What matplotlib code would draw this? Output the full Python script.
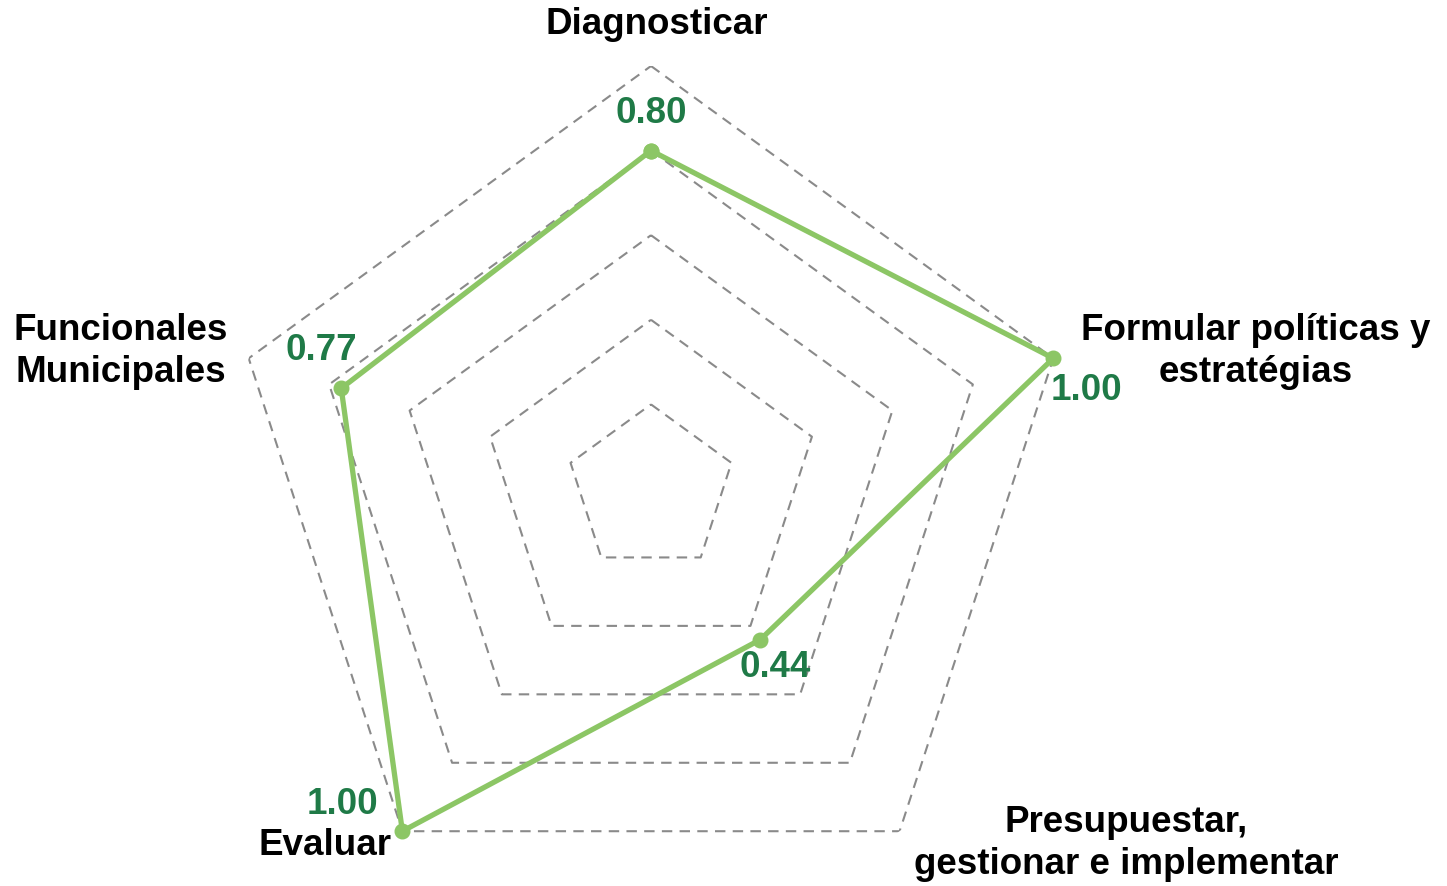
import numpy as np
import matplotlib
matplotlib.use("Agg")
import matplotlib.pyplot as plt

# ─── DATA ─────────────────────────────────────────────────────────────────────
CATEGORIES = ["Diagnosticar", "Formular políticas y\nestratégias",
              "Presupuestar,\ngestionar e implementar", "Evaluar",
              "Funcionales\nMunicipales"]
VALUES = [0.80, 1.00, 0.44, 1.00, 0.77]
RINGS = [0.2, 0.4, 0.6, 0.8, 1.0]

# label offsets (points) relative to the outer vertex / data point
CAT_OFFSETS = [(4, 30), (146, 5), (163, -9), (-56, -10), (-92, 5)]
VAL_OFFSETS = [(0, 27), (24, -23), (11, -20), (-43, 19), (-14, 27)]

LINE_COLOR = "#8CC665"
VALUE_COLOR = "#1F7A47"
GRID_COLOR = "#8A8A8A"

plt.rcParams["font.family"] = ["Liberation Sans", "DejaVu Sans"]

fig = plt.figure(figsize=(14.47, 8.86), dpi=100)
W, H = 1447, 886
cx, cy, R = 651, 886 - 489, 423
ax = fig.add_axes([(cx - R) / W, (cy - R) / H, 2 * R / W, 2 * R / H],
                  projection="polar")
ax.set_theta_zero_location("N")
ax.set_theta_direction(-1)
ax.set_ylim(0, 1)
ax.grid(False)
ax.set_xticks([])
ax.set_yticks([])
ax.spines["polar"].set_visible(False)
ax.patch.set_alpha(0)

n = len(CATEGORIES)
angles = np.linspace(0, 2 * np.pi, n, endpoint=False)
closed = np.append(angles, angles[0])

# dashed pentagon grid
for r in RINGS:
    ax.plot(closed, [r] * (n + 1), color=GRID_COLOR, lw=1.5,
            ls=(0, (5, 3.5)), zorder=1)

# series
vals = VALUES + VALUES[:1]
ax.plot(closed, vals, color=LINE_COLOR, lw=3.8, marker="o", markersize=10.5,
        zorder=3, clip_on=False)

for a, v, off in zip(angles, VALUES, VAL_OFFSETS):
    ax.annotate(f"{v:.2f}", xy=(a, v), xytext=off, textcoords="offset points",
                ha="center", va="center", fontsize=26.5, fontweight="bold",
                color=VALUE_COLOR, annotation_clip=False)

for a, name, off in zip(angles, CATEGORIES, CAT_OFFSETS):
    ax.annotate(name, xy=(a, 1.0), xytext=off, textcoords="offset points",
                ha="center", va="center", multialignment="center",
                fontsize=26.5, fontweight="bold", color="black",
                linespacing=1.27, annotation_clip=False)

fig.savefig("out.png", dpi=100)
